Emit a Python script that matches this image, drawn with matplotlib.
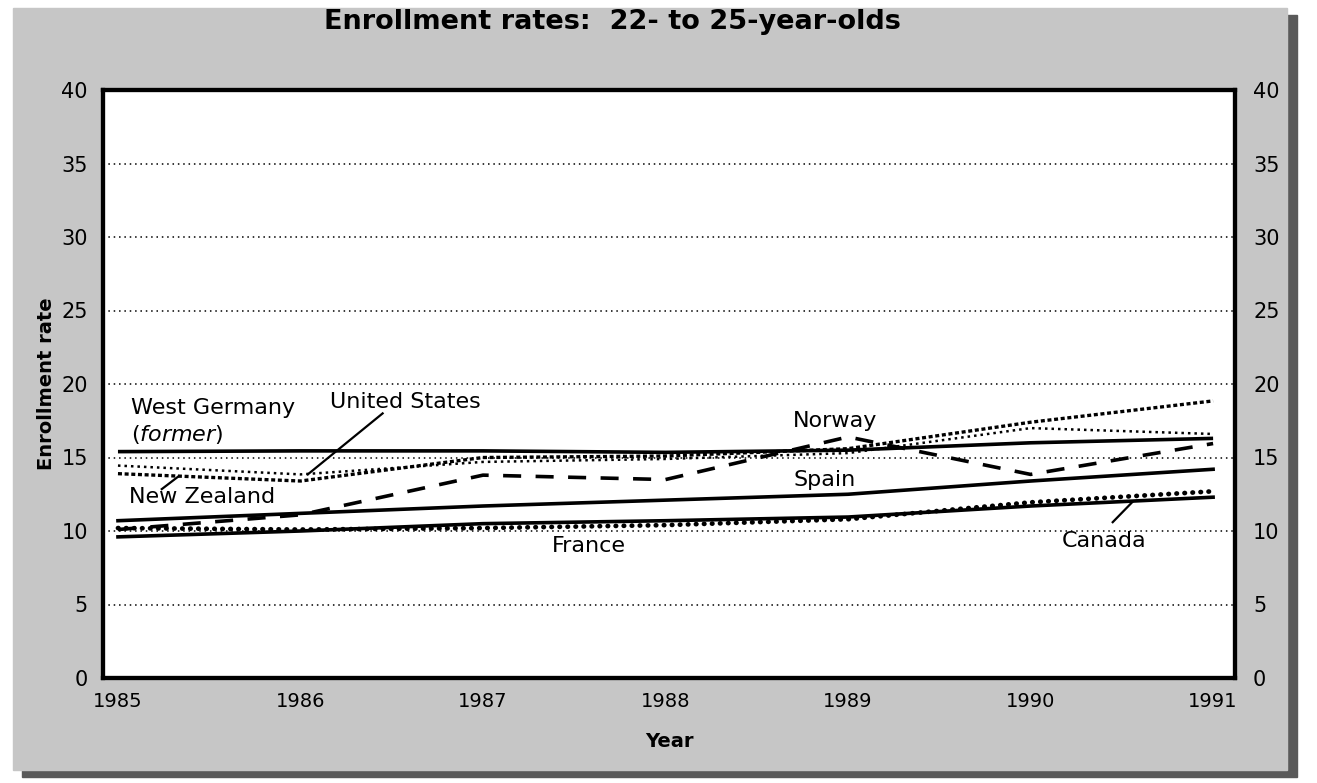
import numpy as np
import matplotlib
matplotlib.use("Agg")
import matplotlib.pyplot as plt
from matplotlib.patches import Rectangle

plt.rcParams['font.family'] = ['DejaVu Sans']
plt.rcParams['mathtext.fontset'] = 'dejavusans'

# data (percent of 22- to 25-year-olds enrolled)
years = [1985, 1986, 1987, 1988, 1989, 1990, 1991]
west_germany = [15.4, 15.45, 15.45, 15.35, 15.5, 16.0, 16.3]
united_states = [14.45, 13.85, 14.7, 14.9, 15.3, 17.0, 16.6]
new_zealand = [13.9, 13.4, 15.0, 15.1, 15.6, 17.4, 18.85]
norway = [10.1, 11.1, 13.8, 13.5, 16.4, 13.85, 15.95]
spain = [10.7, 11.2, 11.7, 12.1, 12.5, 13.4, 14.2]
france = [10.2, 10.1, 10.2, 10.4, 10.8, 11.95, 12.7]
canada = [9.6, 10.0, 10.5, 10.7, 10.95, 11.7, 12.3]
y_ticks = [0, 5, 10, 15, 20, 25, 30, 35, 40]

fig = plt.figure(figsize=(13.17, 7.83), dpi=100, facecolor='white')

# halftone grey panel with a dark drop shadow
W, H = 1317.0, 783.0
fig.patches.append(Rectangle((22 / W, 1 - 777 / H), 1275 / W, 762 / H,
                             transform=fig.transFigure, color='#5a5a5a', zorder=-10))
fig.patches.append(Rectangle((13 / W, 1 - 770 / H), 1274 / W, 762 / H,
                             transform=fig.transFigure, color='#c6c6c6', zorder=-9))

ax = fig.add_axes([103 / W, 1 - 678 / H, 1132 / W, 588 / H])
ax.set_facecolor('white')
ax.set_xlim(1984.918, 1991.12)
ax.set_ylim(0, 40)

ax.plot(years, west_germany, color='black', lw=2.6, solid_capstyle='butt')
ax.plot(years, united_states, color='black', lw=1.8, linestyle=(0, (1, 1.6)))
ax.plot(years, new_zealand, color='black', lw=2.4, linestyle=(0, (1.2, 0.8)))
ax.plot(years, norway, color='black', lw=2.6, linestyle=(0, (5, 4)))
ax.plot(years, spain, color='black', lw=2.6)
ax.plot(years, france, color='black', lw=3.4, linestyle=(0, (0.1, 1.6)),
        dash_capstyle='round')
ax.plot(years, canada, color='black', lw=2.6)

ax.set_yticks(y_ticks)
ax.set_xticks(years)
ax.grid(axis='y', color='black', linestyle=(0, (1, 2.5)), lw=1.1)
ax.tick_params(length=0, labelsize=15)
ax.tick_params(axis='y', pad=11)
ax.tick_params(axis='x', pad=10, labelsize=14)
for s in ax.spines.values():
    s.set_linewidth(3)

ax2 = ax.twinx()
ax2.set_ylim(0, 40)
ax2.set_yticks(y_ticks)
ax2.tick_params(length=0, labelsize=15, pad=13)
for s in ax2.spines.values():
    s.set_linewidth(3)

ax.set_xlabel('Year', fontsize=14, fontweight='bold', labelpad=15)
ax.set_ylabel('Enrollment rate', fontsize=14, fontweight='bold', labelpad=4)
fig.text(612 / W, 1 - 22 / H, 'Enrollment rates:  22- to 25-year-olds',
         ha='center', va='center', fontsize=19.5, fontweight='bold')

# series labels
lab = dict(fontsize=16, color='black', va='center', ha='left')
ax.text(1985.07, 18.4, 'West Germany', **lab)
ax.text(1985.07, 16.55, '(' + r'$\it{former}$' + ')', **lab)
ax.text(1986.16, 18.8, 'United States', **lab)
ax.plot([1986.45, 1986.04], [18.0, 13.85], color='black', lw=1.6)
ax.text(1985.06, 12.3, 'New Zealand', **lab)
ax.plot([1985.24, 1985.33], [12.85, 13.7], color='black', lw=1.6)
ax.text(1988.70, 17.5, 'Norway', **lab)
ax.text(1988.70, 13.45, 'Spain', **lab)
ax.text(1987.38, 8.95, 'France', **lab)
ax.text(1990.17, 9.3, 'Canada', **lab)
ax.plot([1990.45, 1990.56], [10.6, 12.0], color='black', lw=1.6)

fig.savefig('out.png', dpi=100, facecolor=fig.get_facecolor())
